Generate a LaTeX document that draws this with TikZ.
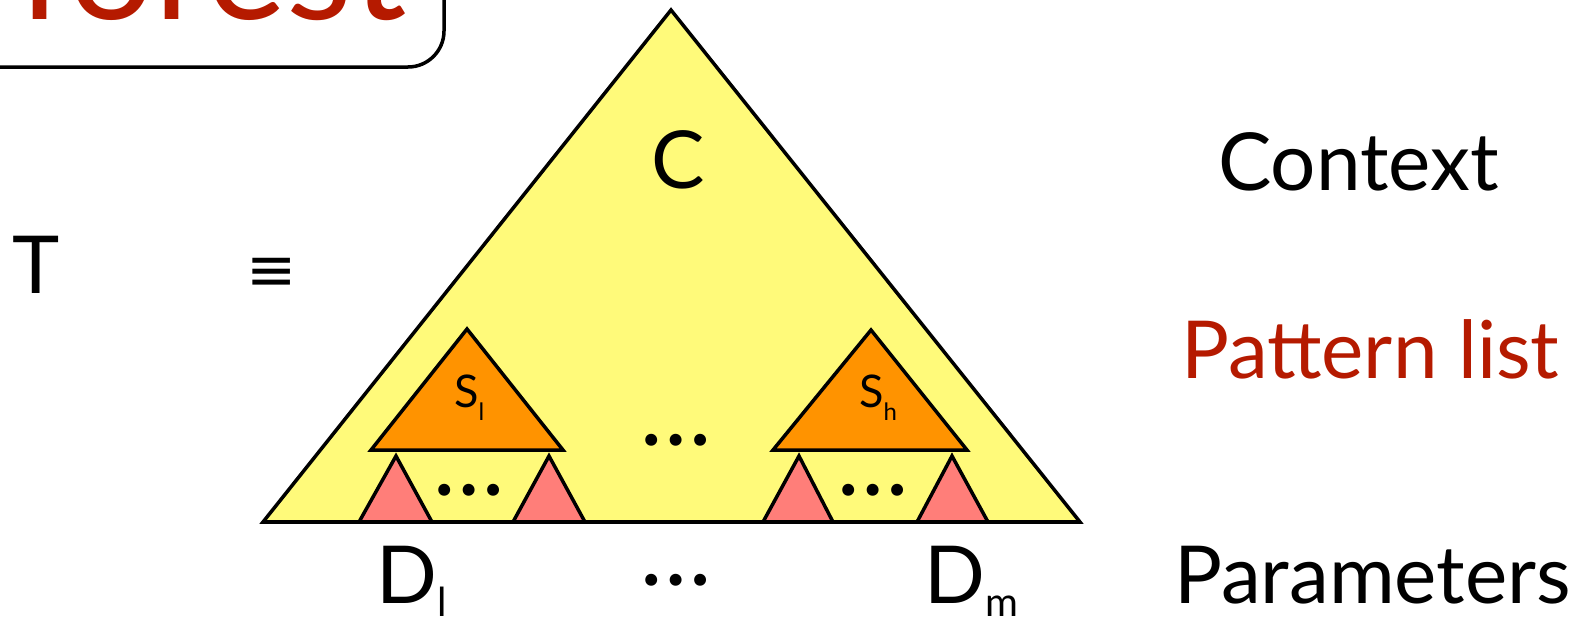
\documentclass[tikz,border=0pt]{standalone}
\usepackage{fontspec}
\setmainfont{Lato}
\newfontfamily\symfont{DejaVu Sans}
\definecolor{ctxyellow}{RGB}{255,250,122}
\definecolor{patorange}{RGB}{255,147,0}
\definecolor{parpink}{RGB}{255,126,121}
\definecolor{titlered}{RGB}{181,26,0}
\begin{document}
\begin{tikzpicture}[x=1pt,y=-1pt,
  bigtext/.style={inner sep=0pt,anchor=base west,font=\fontsize{80}{96}\selectfont},
  midtext/.style={inner sep=0pt,anchor=base west,font=\fontsize{45}{54}\selectfont},
  dotstext/.style={inner sep=0pt,anchor=center,font=\fontsize{95}{110}\selectfont},
  tri/.style={draw=black,line width=3.5pt,line join=miter},
  ]
\useasboundingbox (0,0) rectangle (1571,616);
% title box
\draw[line width=3.5pt,rounded corners=36pt] (-60,-100) rectangle (444,67);
\node[inner sep=0pt,anchor=base west,text=titlered,font=\fontsize{152}{170}\selectfont] (title) at (17,19) {forest};
% context triangle
\draw[tri,fill=ctxyellow] (671,10) -- (1080,522) -- (263,522) -- cycle;
% pattern triangles
\draw[tri,fill=patorange] (467,329) -- (563,450) -- (371,450) -- cycle;
\draw[tri,fill=patorange] (871,330) -- (967,450) -- (773,450) -- cycle;
% parameter triangles
\draw[tri,fill=parpink] (396,456) -- (432,522) -- (359,522) -- cycle;
\draw[tri,fill=parpink] (549,456) -- (585,522) -- (513,522) -- cycle;
\draw[tri,fill=parpink] (799,456) -- (833,522) -- (763,522) -- cycle;
\draw[tri,fill=parpink] (952,456) -- (988,522) -- (917,522) -- cycle;
% base line redraw
\draw[line width=3.5pt] (263,522) -- (1080,522);
% labels
\node[bigtext] (C) at (651,188) {C};
\node[bigtext] (T) at (12,293) {T};
\node[inner sep=0pt,anchor=center,font=\symfont\fontsize{60}{72}\selectfont] (equiv) at (272,274) {≡};
\node[midtext] (S1) at (454,407) {S\raisebox{-13pt}{\fontsize{24}{28}\selectfont l}};
\node[midtext] (Sh) at (859,407) {S\raisebox{-13pt}{\fontsize{24}{28}\selectfont h}};
\node[dotstext] (d1) at (676,440) {…};
\node[dotstext] (d2) at (469,490) {…};
\node[dotstext] (d3) at (873,490) {…};
\node[dotstext] (d4) at (676,580) {…};
\node[bigtext] (D1) at (376,603) {D\raisebox{-13pt}{\fontsize{40}{48}\selectfont l}};
\node[bigtext] (Dm) at (924,603) {D\raisebox{-13pt}{\fontsize{40}{48}\selectfont m}};
\node[bigtext] (ctx) at (1218,190) {Context};
\node[bigtext,text=titlered] (pat) at (1181,378) {Pattern list};
\node[bigtext] (par) at (1174,603) {Parameters};
\end{tikzpicture}
\end{document}
